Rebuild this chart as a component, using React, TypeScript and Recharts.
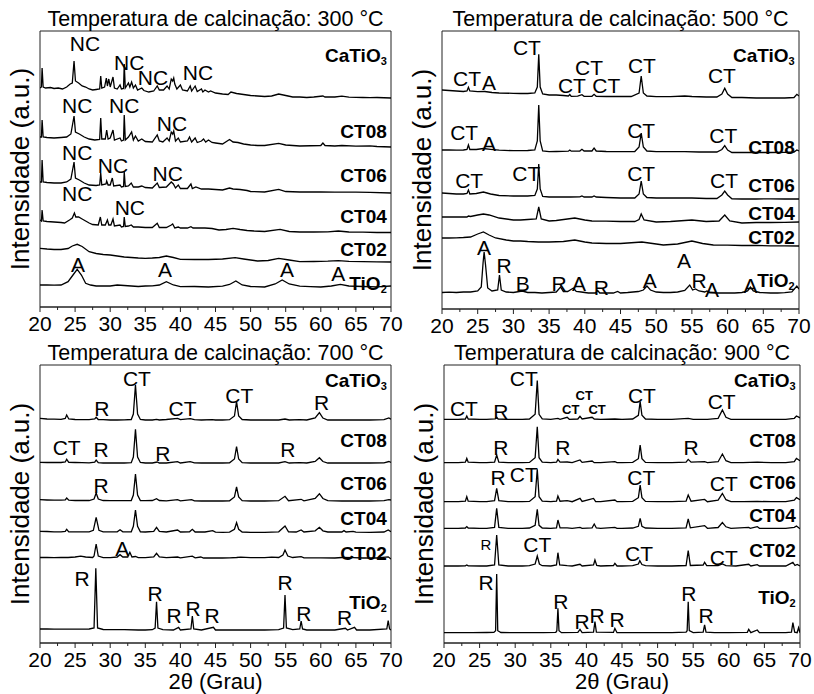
import React from "react";
import { LineChart, Line, XAxis, YAxis, ReferenceDot, ReferenceArea } from "recharts";

type Pt = [number, number];

// 2θ (Grau) vs intensity (a.u.), per sample, relative to the trace's baseline
const sampleNames = ["TiO2", "CT02", "CT04", "CT06", "CT08", "CaTiO3"];
const xTicks = [20, 22.5, 25, 27.5, 30, 32.5, 35, 37.5, 40, 42.5, 45, 47.5, 50, 52.5, 55, 57.5, 60, 62.5, 65, 67.5, 70];

// ---------- 300 °C ----------
const p300CaTiO3: Pt[] = [[20,10],[20.2,11],[20.3,30],[20.45,11],[20.8,10],[21.5,10.5],[22,9.5],[22.6,10],[23.2,9],[23.8,11],[24.3,14],[24.6,15],[24.85,37],[25.05,17],[25.5,15],[26,12],[26.5,11],[27,9],[27.5,8],[28,8.5],[28.5,9],[28.65,22],[28.8,10],[29.2,11],[29.45,20],[29.6,12],[29.8,19],[30,11],[30.4,21],[30.6,10],[31,9],[31.4,13],[31.6,9],[31.9,9.5],[32,34],[32.15,10],[32.6,15],[32.8,11],[33.05,16],[33.3,10],[33.6,13],[33.9,8],[34.5,10],[34.8,7.5],[35.5,6],[36.2,7],[36.7,12],[37,8],[37.6,8],[38.1,12],[38.4,9],[38.7,19],[38.9,17],[39.05,20],[39.2,14],[39.5,9],[40,13],[40.3,8],[41,7],[41.4,12],[41.6,7],[42.1,12],[42.4,6.5],[43,9],[43.2,6],[43.5,8],[44,6],[44.3,7],[45,5],[46,4],[46.8,3.5],[47.2,6],[48,4.5],[48.5,4],[49.5,3],[50,2.5],[51,2],[52,1.5],[53,2],[54,4],[55,2.5],[56,1],[57,1],[58,0.5],[59,1],[60.3,2],[60.6,1],[62,1],[63,1.8],[64,0.8],[66,0.5],[67,0.3],[68,0.5],[70,0]];
const p300CT08: Pt[] = [[20,10],[20.2,10],[20.3,27],[20.45,10],[21,9.5],[22,9],[23,9.5],[23.8,10],[24.4,13],[24.85,31],[25.05,15],[25.6,13],[26.3,10],[27,8],[27.8,7],[28.5,7.5],[28.65,29],[28.8,8],[29.3,8],[29.5,17],[29.7,8],[30,9],[30.4,17],[30.6,7],[31.4,9],[31.6,6],[31.9,7],[32,32],[32.15,7],[32.6,10],[33.05,15],[33.3,7],[33.6,11],[34,6],[34.5,8],[35,5.5],[36,5],[36.7,12],[37,6],[37.5,5],[38.1,9],[38.4,6],[38.7,15],[38.9,13],[39.05,16],[39.3,6],[39.7,9],[40,5],[41,6],[41.3,10],[41.6,5],[42.1,9],[42.4,4.5],[43,6],[43.3,8],[43.6,5],[44,7],[44.5,4.5],[45,4],[46,3],[47,7.5],[47.5,5],[48.2,4.5],[49,3],[50,2],[51,1.5],[52,1.5],[54,3.7],[55,2],[57,1],[60,1.5],[60.3,4],[60.6,1.5],[62,1],[63,1.5],[65,0.8],[67,1.2],[68,0.5],[70,0]];
const p300CT06: Pt[] = [[20,11],[20.2,11],[20.3,33],[20.45,11],[21,10.5],[22,10],[23,10],[23.8,11],[24.4,14],[24.85,31],[25.05,15],[25.6,13],[26.3,10],[27,8],[28,7.5],[28.5,8],[28.65,20],[28.8,8],[29.4,9],[29.5,12],[29.7,8],[30,8],[30.3,15],[30.5,7],[31.4,8],[31.6,6],[31.9,6.5],[32,21],[32.15,6.5],[32.6,7],[33,10],[33.3,6],[34,6],[34.5,7],[35,5.5],[36,5],[36.7,10],[37,5.5],[38,6],[38.7,11],[39,9],[39.3,5],[39.7,8],[40,4.5],[41,4.5],[41.5,9],[41.7,4.5],[42.2,6],[43,4],[44,4],[45,3.5],[46,3],[47,5],[47.5,4],[48.5,3.5],[49.5,2.5],[50,1.5],[52,1],[54,3.7],[55,1.5],[57,1],[60,1],[62,0.8],[65,0.8],[67,0.6],[70,0]];
const p300CT04: Pt[] = [[20,13],[20.2,12],[20.3,23],[20.45,12],[21,11.5],[22,11],[23,10.5],[23.5,10],[24.2,13],[24.6,15],[24.9,20],[25.1,16],[25.5,16],[26,14],[26.5,12],[27,10],[27.5,8.5],[28.3,8],[28.6,16],[28.8,8],[29.3,8],[29.6,13],[29.8,8],[30.1,8],[30.4,14],[30.6,7],[31.4,8],[31.6,6],[31.9,6.5],[32,16],[32.15,6.5],[32.6,7],[33,8],[33.3,6],[34,6],[35,5.5],[36,5.5],[36.7,9.7],[37,5.5],[38,5.5],[38.7,8],[38.9,9],[39.2,5],[39.7,6],[40,5],[41,5],[41.5,6.3],[41.8,5],[42.5,5],[43.5,5],[44.5,4.5],[45.5,3],[46.5,3.5],[47.5,4.7],[48.5,3.5],[49.5,2.5],[50.5,2],[52,1.5],[54.2,3.7],[55.5,1.5],[57,1],[59,1],[61,1.2],[62.5,2],[64,1],[66,0.8],[68,0.5],[70,0.5]];
const p300CT02: Pt[] = [[20,13.7],[21,13],[22,12.5],[23,12.5],[24,13.5],[24.6,16],[25.3,17.7],[26,15.5],[27,10.3],[28,8.5],[29,7.5],[30,7],[31,6],[32,5],[33,4.5],[34,4],[35,3.7],[36,4],[37,4.5],[38,6],[39,4.5],[40,2.7],[42,2.5],[44,2.5],[46,3],[47.8,4.3],[49,3],[51,1],[52.5,1.5],[54,3.7],[55.5,2],[57,0.3],[59,0.5],[61,0.8],[62.5,1.3],[64,0.6],[66,0.3],[68,0.2],[70,0]];
const p300TiO2: Pt[] = [[20,2],[21,2.2],[22,1.8],[23,2],[24,5.3],[24.7,12],[25.3,17.7],[25.9,12],[26.5,3.7],[27.2,2],[28,1],[29,1.2],[30,1],[31,2],[32,1.5],[33,1],[34,0.5],[35,1],[36,1.2],[37,2],[38,5.3],[39,2],[40,0.3],[42,0.5],[44,0],[46,0.8],[47,2.5],[47.9,6],[48.8,2],[50,0.5],[52,0],[53.5,3],[54.5,7],[55.5,3],[57,0.8],[58.5,0.3],[60,0],[61.5,1],[62.8,2.7],[64,1],[66,0.5],[68,0.2],[70,1]];
const offsets300 = [20, 45, 74, 114, 160, 209];
const nameY300 = [24, 58, 91, 132, 176, 252];
const marks300: [string, number, number][] = [
  ["NC", 26.4, 264], ["NC", 32.7, 245], ["NC", 36.1, 230], ["NC", 42.5, 235],
  ["NC", 25.3, 202], ["NC", 32.0, 202], ["NC", 38.8, 184],
  ["NC", 25.3, 155], ["NC", 30.4, 142], ["NC", 38.2, 134],
  ["NC", 25.3, 114], ["NC", 32.8, 100],
  ["A", 25.4, 43], ["A", 37.8, 38], ["A", 55.2, 38], ["A", 62.5, 34],
];

// ---------- 500 °C ----------
const p500CaTiO3: Pt[] = [[20,9],[21,8.5],[22,8],[23,7.5],[23.5,8],[23.7,11.7],[23.9,8],[25,7.3],[26,7.5],[27,6.5],[28,6],[30,5.7],[31,5.5],[32,5.5],[33,6],[33.35,12],[33.55,44.7],[33.75,12],[34.1,5],[35,4],[36,4],[37,3.5],[37.7,3],[37.9,4.5],[38.1,2.7],[39,2.8],[39.6,4.3],[39.9,2.7],[41,2.7],[41.3,4.7],[41.6,2.7],[43,2.5],[45,2.5],[46.5,2.5],[47.6,6],[47.9,23],[48.2,6],[48.7,3],[50,2.3],[52,2.3],[54,3],[55,2.5],[57,2],[58.5,2],[59.2,5],[59.6,10.7],[60,5],[60.6,1.5],[62,1.5],[64,1],[66,1],[68,1],[69.3,1.5],[69.7,4.7],[70,3]];
const p500CT08: Pt[] = [[20,3],[21,3],[22,2.8],[23,3],[23.5,3.5],[23.7,8],[23.9,3.5],[24.8,3.5],[25.8,4.5],[26.8,3.7],[28,2.8],[30,2.3],[31,2.3],[32,2.5],[33,3],[33.35,12],[33.55,48],[33.75,12],[34.1,2],[35,1.3],[36,1.5],[37.7,1.8],[37.9,3],[38.1,1.8],[39.3,2],[39.6,3.7],[39.9,2],[41,2],[41.3,5],[41.6,2],[43,1.5],[45,1.3],[47,1.5],[47.6,6],[47.9,20],[48.2,6],[48.7,2],[50,1.3],[52,1.3],[54,1.3],[56,1],[58.5,1],[59.2,3.5],[59.6,7.3],[60,3],[60.6,0.5],[62,0.5],[64,0.5],[66,0.5],[68,0.7],[69.3,1],[69.7,3],[70,2]];
const p500CT06: Pt[] = [[20,6],[21,5.5],[22,5],[23,5],[23.5,5.5],[23.7,9],[23.9,5],[24.8,5.5],[25.8,7],[26.8,5],[28,3.5],[30,3],[31,3],[32,3],[33,3.5],[33.35,10],[33.55,35],[33.75,10],[34.1,2.5],[35,2],[36,2],[38,2],[39.3,2.2],[39.6,3],[39.9,2],[41,2],[41.3,3],[41.6,2],[43,1.5],[45,1],[47,1],[47.6,5],[47.9,18],[48.2,5],[48.7,1.5],[50,1],[52,1],[55,1],[57,0.5],[58.5,0.5],[59.2,4],[59.6,8],[60,4],[60.6,0.2],[62,0],[64,0],[66,0.2],[68,0],[70,0]];
const p500CT04: Pt[] = [[20,6],[21,6],[22,6],[23,6],[23.5,6],[23.7,7],[24,6.5],[25,8],[25.8,9],[26.6,8],[28,5],[30,3],[31,3],[32,3.5],[33.2,4],[33.55,16],[33.9,4],[35,2],[36,2.5],[38.6,5],[40,3],[41,2],[43,1.8],[45,1.5],[47,1.5],[47.6,3.5],[47.9,9],[48.3,3],[50,1],[52,1.5],[55,3],[57,1.5],[58.8,2],[59.6,8],[60.3,2],[62,0],[64,0.5],[66,0.5],[68,0.7],[70,1]];
const p500CT02: Pt[] = [[20,8],[21,8],[22,8.2],[23,8.5],[24,9],[25,12],[25.8,14],[26.6,11],[27.5,8],[29,6],[30,5],[31,5],[32,4.5],[33.5,4],[35,4],[37,4.5],[38.6,6],[40,4],[41,3],[43,2.5],[45,2.5],[48,4],[49.5,2.5],[51,1],[53,2],[55,5],[56.5,2.5],[58,1],[60,0.8],[62,0.5],[64,0.5],[66,0.2],[68,0.2],[70,0]];
const p500TiO2: Pt[] = [[20,0.5],[21,0.8],[22,0.5],[23,1],[24,1],[25,2],[25.5,6],[25.75,30],[25.9,41],[26.1,28],[26.4,5],[27,2],[27.8,3],[28.05,18],[28.3,3],[29,1],[30,0.5],[31.25,2],[32,0.5],[33,0.5],[34,0],[35,0.5],[36,1],[36.6,6],[37,1.5],[37.6,1.5],[38.4,5],[38.8,1.5],[39.5,1],[40.5,0],[41.5,0],[41.8,2.5],[42.1,0],[43,0],[44,0],[44.6,1.5],[45,0],[46,0.5],[47.5,1.5],[48.2,3],[48.7,7],[49.2,3],[50,1],[51,0.5],[52,0.5],[53,1],[54,2.5],[54.7,8],[55.1,3],[55.5,4],[56,2],[56.8,1],[57.1,2],[57.5,0.5],[58.5,0],[60,0],[61,0],[62,0.5],[62.8,2],[63.2,6],[63.6,2],[64.5,0.5],[66,0],[67,0],[68,0.3],[69,1],[69.7,7],[70,4]];
const offsets500 = [16, 63, 86, 110, 156, 210];
const nameY500 = [29, 72, 96, 124, 162, 254];
const marks500: [string, number, number][] = [
  ["CT", 31.9, 262], ["CT", 23.5, 231], ["A", 26.6, 227], ["CT", 38.2, 224], ["CT", 40.6, 242], ["CT", 43.0, 224], ["CT", 48.0, 244], ["CT", 59.2, 234],
  ["CT", 23.1, 177], ["A", 26.6, 166], ["CT", 47.9, 179], ["CT", 59.4, 174],
  ["CT", 23.8, 129], ["CT", 31.8, 136], ["CT", 47.9, 136], ["CT", 59.5, 129],
  ["A", 25.9, 62], ["R", 28.7, 44], ["B", 31.3, 26], ["R", 36.4, 26], ["A", 39.2, 26], ["R", 42.3, 22], ["A", 49.1, 29], ["A", 53.9, 49], ["R", 56.0, 29], ["A", 57.8, 20], ["A", 63.2, 24],
];

// ---------- 700 °C ----------
const p700CaTiO3: Pt[] = [[20,1.7],[21,1],[22,0.8],[23,0.7],[23.6,1.5],[23.8,5],[24.1,1],[25,0.5],[26,0.3],[27,0.3],[27.8,1],[28,2.7],[28.3,0.5],[29,0.3],[30,0],[31,0],[32,0.2],[33,0.5],[33.3,6],[33.6,35],[33.9,6],[34.3,0.5],[35,0],[36,0],[36.6,0.7],[37,0],[38,0.5],[39.6,1.7],[40,0.3],[41.4,1.3],[42,0.3],[43,0],[44.5,0.3],[45,0],[46,0],[47,0.3],[47.7,4],[48,18.3],[48.3,4],[48.8,0.5],[50,0],[52,0],[54,0],[54.9,1],[55.5,0],[57,0.3],[58,0],[59.2,2],[59.8,7.3],[60.3,2],[61,0],[63,0],[65,0],[67,0],[69,0.3],[69.7,2],[70,0.7]];
const p700CT08: Pt[] = [[20,0.7],[21,0.5],[22,0.5],[23,0.5],[23.6,1],[23.8,3.7],[24.1,0.7],[25,0.5],[26,0.3],[27,0.2],[27.8,0.8],[28,3],[28.3,0.3],[29,0],[30,0],[31,0],[32,0],[33,0.3],[33.3,6],[33.6,33.7],[33.9,6],[34.3,0.5],[35,0],[36,0],[36.7,1],[37,0],[38,0],[39.6,1.3],[40,0],[41.4,1.3],[42,0.2],[43,0],[45,0],[46,0],[47,0.2],[47.7,4],[48,16.3],[48.3,4],[48.8,0.3],[50,0],[52,0],[54,0],[54.9,1.3],[55.5,0],[57,0.3],[58,0],[59.2,1.5],[59.8,5.3],[60.3,1.5],[61,0],[63,0],[65,0],[67,0],[69,0.2],[69.7,1.5],[70,0.5]];
const p700CT06: Pt[] = [[20,1.3],[21,1],[22,0.8],[23,0.8],[23.6,1.2],[23.8,3],[24.1,0.8],[25,0.5],[26,0.5],[27,0.5],[27.7,2],[28,8],[28.3,2],[29,0.5],[30,0.3],[31,0.3],[32,0.3],[33,0.5],[33.3,6],[33.6,27],[33.9,6],[34.3,0.5],[35,0.3],[36,0.5],[36.6,2.3],[37,0.5],[38,0.2],[39.6,1.3],[40,0.2],[41.6,1.3],[42,0.2],[43,0],[45,0],[46,0],[47,0.2],[47.7,4],[48,14],[48.3,4],[48.8,0.3],[50,0],[52,0],[54,0.3],[54.9,4.7],[55.4,0.3],[57.2,1.7],[57.6,0.2],[59.2,2.5],[59.8,7.3],[60.3,2.5],[61,0.3],[63,0],[65,0],[67,0],[69,0.3],[69.7,1.3],[70,1]];
const p700CT04: Pt[] = [[20,1],[21,0.8],[22,0.5],[23,0.5],[23.6,1],[23.8,3],[24.1,0.5],[25,0.5],[26,0.5],[27,0.5],[27.6,2],[28,15],[28.4,2],[29,0.5],[30,0.5],[31,0.5],[31.4,2.5],[31.8,0.5],[33,0.5],[33.3,6],[33.6,22.3],[33.9,6],[34.3,0.5],[35,0.3],[36.2,1],[36.6,5],[37,1],[38,0.3],[39.6,2.3],[40,0.3],[41.3,0.5],[41.7,3],[42.1,0.3],[43.5,0.3],[44.6,1.7],[45,0.2],[46,0],[47,0.2],[47.7,3],[48,9.7],[48.3,3],[48.8,0.3],[50,0],[52,0],[54,0.5],[54.9,6.3],[55.4,0.5],[56.5,0.3],[57.2,2.3],[57.6,0.3],[59.2,1.5],[59.8,5],[60.3,1.5],[61,0.3],[63,0.3],[63.3,1.7],[63.6,0.3],[64.6,1],[65,0.2],[67,0],[69,0.3],[69.6,2.3],[70,0.5]];
const p700CT02: Pt[] = [[20,0.5],[21,0.5],[22,0.3],[23,0.5],[24,0.5],[25,1],[25.8,1.8],[26.5,1],[27.5,0.5],[27.7,2],[28,14],[28.3,2],[29,0.3],[30,0.3],[31,1],[31.4,3.3],[31.8,1],[32.5,1],[32.8,5.7],[33.1,1],[33.6,1.5],[34,0.3],[35,0.3],[36.2,1],[36.6,4.7],[37,1],[38,0.3],[39.6,1],[40,0.2],[41.7,1.8],[42.1,0.2],[42.9,1],[43.3,0],[45,0.2],[46,0],[47,0.2],[48,0.5],[48.6,0.8],[50,0.3],[52,0.3],[53,0.8],[54,0.5],[54.6,3],[54.9,8],[55.3,2],[56,0.5],[57.2,1.3],[57.6,0.2],[59,0.2],[60,0.2],[62,0],[63,0.5],[64.6,0.3],[66,0],[68,0],[69.6,1.2],[70,-1]];
const p700TiO2: Pt[] = [[20,1],[21,1],[22,0.8],[23,0.8],[24,0.8],[25,0.8],[26,0.8],[27,1],[27.7,2],[27.95,61.7],[28.2,2],[29,0.5],[30,0.3],[32,0.3],[34,0],[35,0],[36,0.3],[36.4,2],[36.6,28.3],[36.8,2],[37.5,0.3],[39,0],[39.75,2.7],[40,0],[41.5,1],[41.7,14],[41.9,1],[43,0],[44.7,2.7],[45,0],[47,0],[50,0],[52,0],[54,0.3],[54.7,2],[54.9,35],[55.1,2],[56,0.3],[57,1],[57.2,9],[57.4,1],[58,0],[60,0],[62,0],[63.5,1.7],[63.8,0],[64.8,2.7],[65.1,0],[67,0],[69.4,1],[69.6,9.3],[69.8,1],[70,0]];
const offsets700 = [13, 85, 110.7, 142, 180, 223];
const nameY700 = [41, 90, 125, 160, 203, 263];
const marks700: [string, number, number][] = [
  ["CT", 33.8, 265], ["R", 28.8, 235], ["CT", 40.3, 235], ["CT", 48.4, 248], ["R", 60.1, 241],
  ["CT", 23.8, 196], ["R", 28.7, 194], ["R", 37.5, 190], ["R", 55.3, 194],
  ["R", 28.7, 158],
  ["A", 31.7, 95],
  ["R", 26.0, 65], ["R", 36.4, 50], ["R", 39.1, 28], ["R", 41.8, 35], ["R", 44.5, 28], ["R", 54.9, 61], ["R", 57.6, 30], ["R", 63.4, 26],
];

// ---------- 900 °C ----------
const p900CaTiO3: Pt[] = [[20,0],[21,0],[22,0],[23,0.3],[23.2,3.3],[23.4,0.3],[25,0],[26,0],[27.2,0.5],[27.4,2],[27.6,0.3],[29,0],[31,0],[32,0.3],[32.8,5],[33.1,38.7],[33.35,5],[33.8,0.5],[35,0],[36,1],[36.3,0],[37.3,2],[37.6,0],[38.8,0.3],[39.1,3],[39.4,0.3],[40.8,2],[41.1,0.3],[42,0],[44,0.3],[45,0],[46.5,0.3],[47.3,4],[47.55,17.7],[47.8,4],[48.3,0.3],[50,0],[52,0],[54.3,1],[55,0],[57,0],[58.5,1],[59.1,9.3],[59.6,2],[60.3,0],[62,0],[64,0],[66,0],[68,0],[69.2,1],[69.5,3.3],[70,1.5]];
const p900CT08: Pt[] = [[20,0],[21,0],[22,0],[23,0.5],[23.2,4.3],[23.4,0.5],[25,0],[26,0],[27.1,0.5],[27.4,7.7],[27.7,0.5],[29,0],[31,0],[32,0.3],[32.8,5],[33.1,36],[33.35,5],[33.8,0.5],[35,0],[35.8,0.5],[36,3.3],[36.3,0.5],[37.3,0.7],[38,0],[39.1,2.7],[39.4,0.3],[40.8,1.7],[41.1,0],[42,0],[44,1],[44.3,0],[45,0],[46.5,0.3],[47.3,4],[47.55,17.7],[47.8,4],[48.3,0.3],[50,0],[52,0],[54,0.5],[54.3,3.3],[54.7,0.5],[56.6,1],[57,0],[58.5,1],[59.1,8.7],[59.6,2],[60.3,0],[62,0],[64,0.5],[66,0],[68,0],[69.2,1],[69.5,4.3],[70,2]];
const p900CT06: Pt[] = [[20,0],[21,0],[22,0],[23,0.5],[23.2,5],[23.4,0.5],[25,0],[26,0],[27.1,1],[27.4,13.3],[27.7,1],[29,0],[31,0],[32,0.3],[32.8,5],[33.1,32.3],[33.35,5],[33.8,0.5],[35,0],[35.8,0.5],[36,5.7],[36.3,0.5],[37.3,1],[38,0],[39.1,3.3],[39.4,0.3],[41,3.3],[41.3,0],[42,0],[44,1.7],[44.3,0],[45,0],[46.5,0.3],[47.3,4],[47.55,16.7],[47.8,4],[48.3,0.3],[50,0],[52,0],[54,0.5],[54.3,6.7],[54.7,0.5],[56.6,2.3],[57,0],[58.5,1.5],[59.1,8.3],[59.6,2],[60.3,0],[62,0],[64,0.3],[66,0],[68,0],[69.2,1.5],[69.5,4],[70,2]];
const p900CT04: Pt[] = [[20,0],[21,0],[22,0],[23,0.3],[23.2,1.7],[23.4,0.3],[25,0],[26,0],[27.1,1],[27.4,20],[27.7,1],[29,0],[31,0],[32,0.3],[32.8,3],[33.1,19],[33.35,3],[33.8,0.3],[35,0],[35.8,0.5],[36,8.3],[36.3,0.5],[37.3,0.5],[38,0],[39.1,1],[39.4,0],[40.8,0.5],[41.1,4.3],[41.4,0.3],[42,0],[44,1],[44.3,0],[45,0],[46.5,0.3],[47.3,2],[47.55,10],[47.8,2],[48.3,0.3],[50,0],[52,0],[54,0.5],[54.3,9.3],[54.6,0.5],[56.6,2.7],[57,0],[58.5,0.8],[59.1,5.7],[59.6,1.5],[60.3,0],[62.8,1],[63,0],[64,1.7],[64.3,0],[66,0],[68,0],[69.2,1],[69.5,2.3],[70,-0.5]];
const p900CT02: Pt[] = [[20,0],[21,0],[22,0],[23,0.2],[23.2,1],[23.4,0.2],[25,0],[26,0],[27.1,1],[27.4,31],[27.7,1],[29,0],[31,0],[32,0.3],[32.8,2],[33.1,10],[33.4,2],[33.8,0.3],[35,0],[35.8,1],[36,13.3],[36.25,1],[37.3,0.3],[38,0],[39.1,1.7],[39.4,0],[41,1],[41.2,6],[41.45,0.5],[42,0],[43.8,0.5],[44,2.7],[44.3,0],[45,0],[46.5,0.3],[47.3,2],[47.5,5.3],[47.8,1.5],[48.3,0.3],[50,0],[52,0],[54,0.5],[54.3,15.3],[54.6,0.5],[56.4,1],[56.6,3.7],[56.9,0.3],[58.5,0.3],[59.1,2],[59.6,0.3],[61,0],[62.8,1.7],[63.1,0],[64,1.3],[64.3,0],[66,0],[68,0],[69,3.7],[69.3,0.5],[69.6,1.5],[70,0]];
const p900TiO2: Pt[] = [[20,0],[22,0],[24,0],[26,0.2],[27,0.3],[27.25,2],[27.4,58.7],[27.55,2],[28,0.2],[30,0],[32,0],[34,0],[35.7,0.3],[35.85,2],[36,24.3],[36.15,2],[36.5,0],[38.8,0.3],[39.1,3.3],[39.4,0],[41,0.5],[41.2,11],[41.4,0.5],[43.8,0.3],[44,4.3],[44.3,0],[46,0],[48,0],[50,0],[52,0],[54,0.5],[54.15,2],[54.3,31],[54.45,2],[55,0],[56.4,0.5],[56.6,7.7],[56.8,0.5],[58,0],[60,0],[62.6,0.3],[62.8,3.3],[63.1,0],[64,2.7],[64.3,0],[66,0],[68,0],[68.8,0.5],[69,10],[69.25,0.5],[69.6,0],[69.8,5],[70,0]];
const offsets900 = [10.3, 77, 114.7, 141.3, 180.3, 223.7];
const nameY900 = [46, 93, 128, 161, 203, 263];
const marks900: [string, number, number][] = [
  ["CT", 22.8, 235], ["R", 28.0, 232], ["CT", 31.2, 265], ["ct", 37.8, 234], ["ct", 39.7, 248], ["ct", 41.5, 234], ["CT", 47.8, 248], ["CT", 59.0, 242],
  ["R", 28.0, 196], ["R", 36.7, 196], ["R", 54.7, 196],
  ["R", 27.6, 166], ["CT", 31.2, 169], ["CT", 47.7, 166], ["CT", 59.3, 160],
  ["r", 25.9, 99], ["CT", 33.1, 99], ["CT", 47.4, 90], ["CT", 59.3, 86],
  ["R", 25.9, 61], ["R", 36.4, 42], ["R", 39.4, 22], ["R", 41.5, 28], ["R", 44.3, 24], ["R", 54.4, 50], ["R", 56.8, 28],
];

const FONT = "'Liberation Sans', Arial, sans-serif";

interface PanelDef {
  title: string;
  traces: Pt[][];
  offsets: number[];
  nameY: number[];
  marks: [string, number, number][];
  left: number;
  top: number;
  plotW: number;
  plotH: number;
  margin: { top: number; left: number; right: number; bottom: number };
  xLabel: boolean;
}

const panels: PanelDef[] = [
  {
    title: "Temperatura de calcinação: 300 °C",
    traces: [p300TiO2, p300CT02, p300CT04, p300CT06, p300CT08, p300CaTiO3],
    offsets: offsets300, nameY: nameY300, marks: marks300,
    left: 0, top: 0, plotW: 351, plotH: 276,
    margin: { top: 31, left: 40, right: 16, bottom: 0 }, xLabel: false,
  },
  {
    title: "Temperatura de calcinação: 500 °C",
    traces: [p500TiO2, p500CT02, p500CT04, p500CT06, p500CT08, p500CaTiO3],
    offsets: offsets500, nameY: nameY500, marks: marks500,
    left: 404, top: 0, plotW: 357, plotH: 278,
    margin: { top: 31, left: 38, right: 15, bottom: 0 }, xLabel: false,
  },
  {
    title: "Temperatura de calcinação: 700 °C",
    traces: [p700TiO2, p700CT02, p700CT04, p700CT06, p700CT08, p700CaTiO3],
    offsets: offsets700, nameY: nameY700, marks: marks700,
    left: 0, top: 334, plotW: 351, plotH: 278,
    margin: { top: 31, left: 40, right: 16, bottom: 0 }, xLabel: true,
  },
  {
    title: "Temperatura de calcinação: 900 °C",
    traces: [p900TiO2, p900CT02, p900CT04, p900CT06, p900CT08, p900CaTiO3],
    offsets: offsets900, nameY: nameY900, marks: marks900,
    left: 404, top: 334, plotW: 356, plotH: 278,
    margin: { top: 31, left: 40, right: 14, bottom: 0 }, xLabel: true,
  },
];

const X_AXIS_H = 30;

function XTick(props: any) {
  const { x, y, payload } = props;
  const major = payload.value % 5 === 0;
  return (
    <g>
      <line x1={x} x2={x} y1={y} y2={y + (major ? 5 : 3)} stroke="#222" strokeWidth={1} />
      {major && (
        <text x={x} y={y + 24} textAnchor="middle" fontSize={21} fontFamily={FONT} fill="#000">
          {payload.value}
        </text>
      )}
    </g>
  );
}

function SampleName({ name, cx, cy }: { name: string; cx: number; cy: number }) {
  const m = name.match(/^(.*?)(\d)$/);
  const sub = name.startsWith("CaTiO") || name.startsWith("TiO");
  return (
    <text x={cx} y={cy} textAnchor="end" dominantBaseline="central" fontSize={19} fontWeight="bold" fontFamily={FONT} fill="#000">
      {sub && m ? (
        <>
          {m[1]}
          <tspan fontSize={11} dy={6}>{m[2]}</tspan>
        </>
      ) : (
        name
      )}
    </text>
  );
}

function PeakMark({ text, cx, cy }: { text: string; cx: number; cy: number }) {
  const small = text === "ct";
  const smallR = text === "r";
  return (
    <text
      x={cx}
      y={cy}
      textAnchor="middle"
      dominantBaseline="central"
      fontSize={small ? 13 : smallR ? 15 : 21}
      fontWeight={small ? "bold" : "normal"}
      fontFamily={FONT}
      fill="#000"
    >
      {text.toUpperCase()}
    </text>
  );
}

function Panel({ def }: { def: PanelDef }) {
  const width = def.margin.left + def.plotW + def.margin.right;
  const height = def.margin.top + def.plotH + X_AXIS_H;
  return (
    <div style={{ position: "absolute", left: def.left, top: def.top }}>
      <LineChart width={width} height={height} margin={def.margin}>
        <XAxis
          type="number"
          dataKey="x"
          domain={[20, 70]}
          allowDataOverflow
          ticks={xTicks}
          interval={0}
          tickSize={0}
          tickMargin={0}
          tick={<XTick />}
          axisLine={{ stroke: "#222", strokeWidth: 1 }}
          height={X_AXIS_H}
        />
        <YAxis type="number" domain={[0, def.plotH]} allowDataOverflow hide />
        <ReferenceArea x1={20} x2={70} y1={0} y2={def.plotH} fill="none" stroke="#222" strokeWidth={1} ifOverflow="visible" />
        {def.traces.map((trace, i) => (
          <Line
            key={sampleNames[i]}
            data={trace.map(([x, v]) => ({ x, y: v + def.offsets[i] }))}
            dataKey="y"
            type="linear"
            stroke="#000"
            strokeWidth={1.3}
            dot={false}
            isAnimationActive={false}
          />
        ))}
        {sampleNames.map((name, i) => (
          <ReferenceDot
            key={"n" + name}
            x={69.4}
            y={def.nameY[i]}
            r={0}
            shape={(p: any) => <SampleName name={name} cx={p.cx} cy={p.cy} />}
          />
        ))}
        {def.marks.map(([t, x, y], i) => (
          <ReferenceDot
            key={"m" + i}
            x={x}
            y={y}
            r={0}
            shape={(p: any) => <PeakMark text={t} cx={p.cx} cy={p.cy} />}
          />
        ))}
      </LineChart>
    </div>
  );
}

export default function App() {
  return (
    <div style={{ position: "absolute", left: 0, top: 0, width: 814, height: 694, background: "#fff", overflow: "hidden" }}>
      {panels.map((p) => (
        <Panel key={p.title} def={p} />
      ))}
      <svg width={814} height={694} style={{ position: "absolute", left: 0, top: 0, pointerEvents: "none" }}>
        {panels.map((p) => {
          const px = p.left + p.margin.left;
          const py = p.top + p.margin.top;
          const cx = px + p.plotW / 2;
          const cy = py + p.plotH / 2;
          return (
            <g key={p.title}>
              <text x={cx} y={py - 5} textAnchor="middle" fontSize={21.5} fontFamily={FONT} fill="#000">
                {p.title}
              </text>
              <text
                x={px - 20}
                y={cy}
                textAnchor="middle"
                dominantBaseline="central"
                fontSize={26}
                fontFamily={FONT}
                fill="#000"
                transform={`rotate(-90 ${px - 20} ${cy})`}
              >
                Intensidade (a.u.)
              </text>
              {p.xLabel && (
                <text x={cx} y={689} textAnchor="middle" fontSize={22} fontFamily={FONT} fill="#000">
                  2θ (Grau)
                </text>
              )}
            </g>
          );
        })}
      </svg>
    </div>
  );
}
